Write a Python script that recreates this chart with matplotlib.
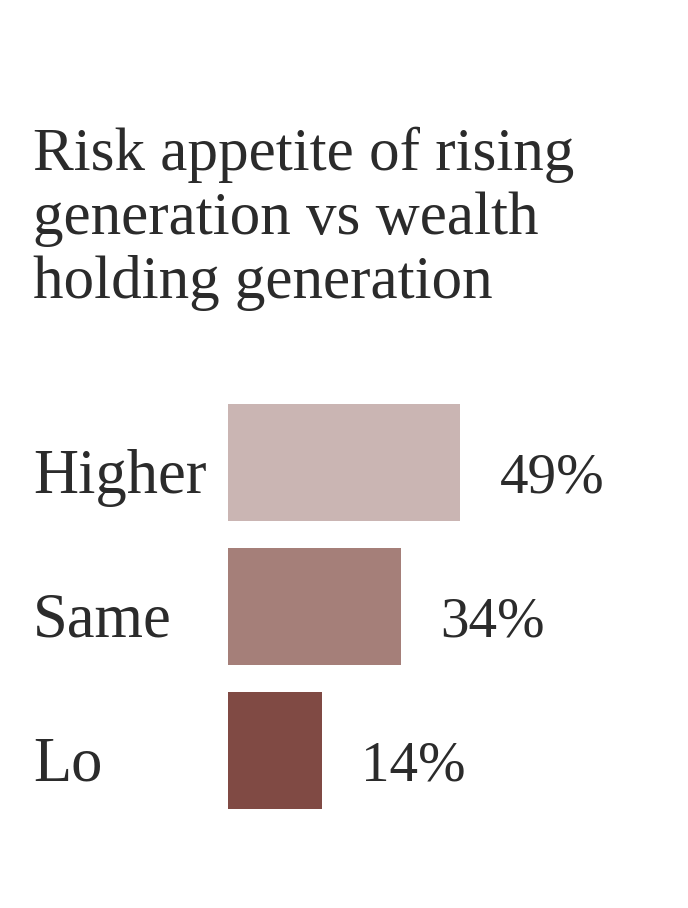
import matplotlib.pyplot as plt
import matplotlib.transforms as mtransforms

TITLE_LINES = ["Risk appetite of rising",
               "generation vs wealth",
               "holding generation"]
CATEGORIES = ["Higher", "Same", "Lo"]
VALUES = [49, 34, 14]
COLORS = ["#cab5b3", "#a57f79", "#804a44"]

TEXT_COLOR = "#2b2b2b"
FONT = ["Liberation Serif", "DejaVu Serif"]
W, H = 688, 908
BAR_BASE = 9.7      # bars start a little left of zero
LABEL_GAP = 10
PX_PER_UNIT = 3.96


def fx(px):
    return px / W


def fy(px):
    return 1 - px / H


fig = plt.figure(figsize=(W / 100, H / 100), dpi=100)
fig.patch.set_facecolor("white")

# title, one text per line
for i, line in enumerate(TITLE_LINES):
    fig.text(fx(33), fy(170 + 64 * i), line, fontsize=44, family=FONT,
             color=TEXT_COLOR, va="baseline", ha="left")

# axes starts where the bars start
ax_w = 440
ax = fig.add_axes([fx(228), fy(822.5), ax_w / W, 432 / H])
ax.set_xlim(-BAR_BASE, -BAR_BASE + ax_w / PX_PER_UNIT)
ax.set_ylim(2.5, -0.5)
ax.axis("off")

ypos = range(len(CATEGORIES))
ax.barh(list(ypos), [v + BAR_BASE for v in VALUES], left=-BAR_BASE,
        height=0.8125, color=COLORS)

trans = mtransforms.blended_transform_factory(fig.transFigure, ax.transData)
for i, (cat, v) in enumerate(zip(CATEGORIES, VALUES)):
    ax.text(fx(33), i + 0.21, cat, transform=trans, fontsize=45,
            family=FONT, color=TEXT_COLOR, va="baseline", ha="left")
    ax.text(v + LABEL_GAP, i + 0.21, str(v) + "%", fontsize=41,
            family=FONT, color=TEXT_COLOR, va="baseline", ha="left",
            clip_on=False)

plt.savefig("out.png", dpi=100)
